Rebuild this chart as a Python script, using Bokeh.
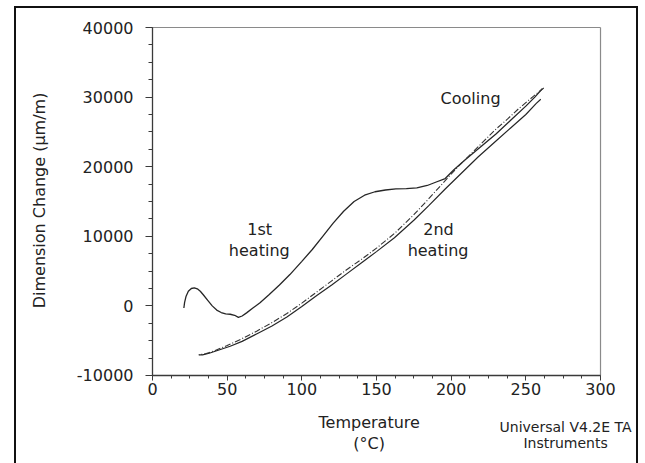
import math
from bokeh.plotting import figure
from bokeh.models import FixedTicker, NumeralTickFormatter, Label, Range1d
from bokeh.embed import file_html
from bokeh.resources import INLINE

# ---- data ----
T_first = [21, 21.5, 22.5, 24, 26, 28, 30, 32, 34, 37, 40, 43, 46, 49, 52, 55, 57.5, 60, 63, 67,
           72, 78, 85, 92, 100, 107, 114, 121, 128, 135, 142, 149, 156, 163, 170, 177, 184, 190,
           196, 202, 210, 220, 230, 240, 250, 256, 261]
V_first = [-300, 500, 1400, 2100, 2500, 2600, 2450, 2100, 1600, 800, 0, -600, -950, -1150, -1200,
           -1350, -1650, -1450, -1000, -350, 450, 1600, 3000, 4500, 6400, 8100, 10000, 11900,
           13600, 15000, 15900, 16400, 16650, 16800, 16850, 16950, 17300, 17800, 18300, 19600,
           21100, 22900, 24700, 26700, 28700, 30000, 31200]

T_cool = [262, 259, 255, 250, 245, 238, 230, 222, 214, 205, 196, 185, 175, 162, 150, 140, 130,
          120, 110, 100, 90, 80, 70, 60, 50, 42, 36, 31]
V_cool = [31300, 30800, 30100, 29200, 28300, 26900, 25400, 23700, 22000, 20100, 18000, 15400,
          13100, 10400, 8300, 6700, 5200, 3600, 2000, 400, -1100, -2400, -3600, -4700, -5700,
          -6400, -6850, -7030]

T_second = [31, 33.5, 38, 45, 52, 60, 70, 80, 90, 100, 110, 120, 130, 140, 150, 162, 175, 185,
            196, 207, 218, 230, 240, 250, 257, 260]
V_second = [-7030, -7030, -6800, -6300, -5800, -5100, -4000, -2900, -1600, -100, 1500, 3000,
            4600, 6200, 7800, 9800, 12300, 14400, 16800, 19100, 21400, 23700, 25600, 27500,
            29100, 29700]

x_ticks = [0, 50, 100, 150, 200, 250, 300]
x_minor = [k * 12.5 for k in range(25)]
y_ticks = [-10000, 0, 10000, 20000, 30000, 40000]
y_minor = [-10000 + k * 2500 for k in range(21)]

FONT = "DejaVu Sans"
INK = "#222222"

# The drawing area covers the whole figure, so that the texts around the plot box
# (which lie outside the 0-300 / -10000-40000 box) can be written as labels.
X0, X1 = x_ticks[0], x_ticks[-1]
Y0, Y1 = y_ticks[0], y_ticks[-1]
p = figure(width=620, height=455, x_range=Range1d(-91.07, 324.1), y_range=Range1d(-22644, 42730),
           output_backend="svg", toolbar_location=None,
           min_border_left=0, min_border_right=0, min_border_top=0, min_border_bottom=0)
p.styles = {"transform": "translate(16px, 8px)",
            "box-shadow": "-2px 0 0 0 #111, 0 -2px 0 0 #111, 2px 0 0 0 #111, -2px -2px 0 0 #111, 2px -2px 0 0 #111"}
p.background_fill_color = "white"
p.border_fill_color = "white"
p.grid.visible = False
p.outline_line_color = None

for ax in (p.xaxis[0], p.yaxis[0]):
    ax.axis_line_color = "#3a3a3a"
    ax.axis_line_width = 1.3
    ax.major_tick_line_color = "#3a3a3a"
    ax.minor_tick_line_color = "#3a3a3a"
    ax.major_tick_in = 0
    ax.minor_tick_in = 0
    ax.major_label_text_font = FONT
    ax.major_label_text_font_size = "16px"
    ax.major_label_text_color = INK

p.xaxis.ticker = FixedTicker(ticks=x_ticks, minor_ticks=x_minor)
p.yaxis.ticker = FixedTicker(ticks=y_ticks, minor_ticks=y_minor)
p.xaxis.bounds = (X0, X1)
p.yaxis.bounds = (Y0, Y1)
p.xaxis.fixed_location = Y0
p.yaxis.fixed_location = X0
p.yaxis.formatter = NumeralTickFormatter(format="0")
p.xaxis.major_tick_out = 5
p.xaxis.minor_tick_out = 3
p.xaxis.major_label_standoff = 3
p.yaxis.major_tick_out = 7
p.yaxis.minor_tick_out = 4
p.yaxis.major_label_standoff = 12

# grey top and right edges of the plot box
p.segment(x0=[X0, X1], y0=[Y1, Y0], x1=[X1, X1], y1=[Y1, Y1], line_color="#8a8a8a", line_width=1.2)

p.line(T_first, V_first, line_color="#262626", line_width=1.3)
p.line(T_cool, V_cool, line_color="#333333", line_width=1.1, line_dash="6 2 1 2")
p.line(T_second, V_second, line_color="#262626", line_width=1.2)

def add_text(x, y, t, size="16px", angle=0.0):
    p.add_layout(Label(x=x, y=y, text=t, text_font=FONT, text_font_size=size, angle=angle,
                       text_color=INK, text_align="center", text_baseline="middle"))

add_text(-75.7, 15150, "Dimension Change (µm/m)", angle=math.pi / 2)
add_text(71.8, 11000, "1st")
add_text(71.5, 7950, "heating")
add_text(191.5, 11000, "2nd")
add_text(191.2, 7950, "heating")
add_text(213, 29870, "Cooling")
add_text(145.1, -16710, "Temperature")
add_text(145.1, -19770, "(°C)")
add_text(276.6, -17430, "Universal V4.2E TA", "14px")
add_text(276.6, -19730, "Instruments", "14px")

open("out.html", "w").write(file_html(p, INLINE))
